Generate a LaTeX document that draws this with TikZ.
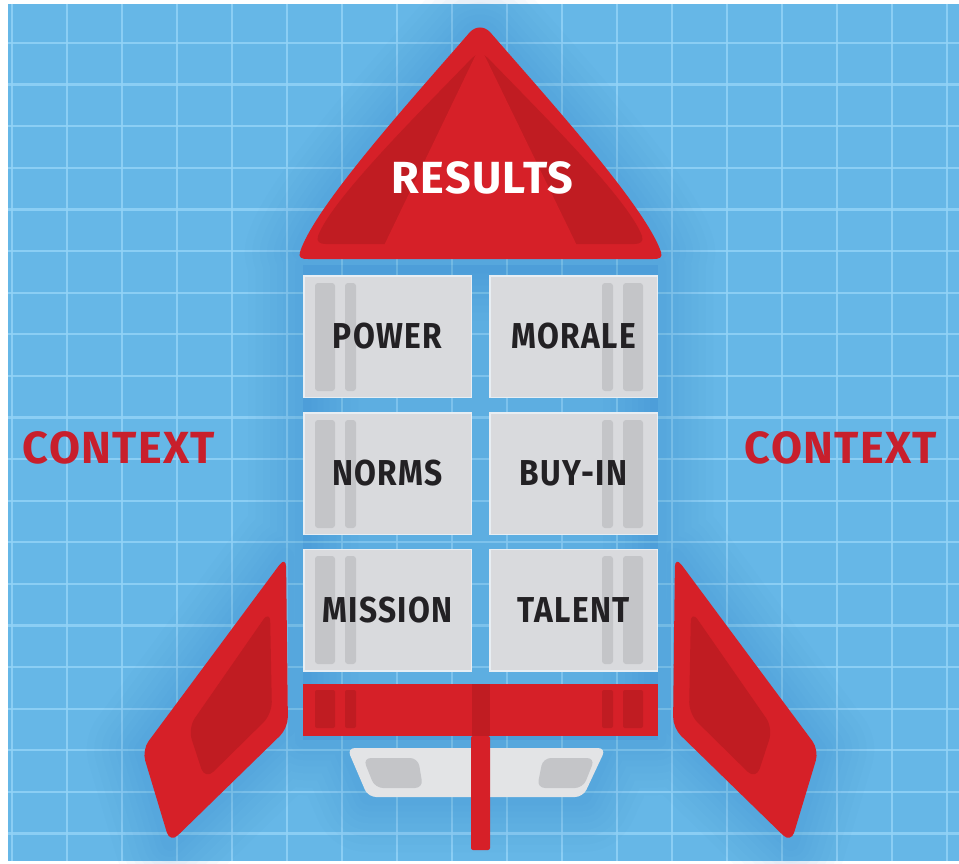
\documentclass[tikz,border=0pt]{standalone}
\usepackage{fontspec}
\usepackage{tikz}
\newfontfamily\rocketfont[LetterSpace=3]{Fira Sans}
\newfontfamily\panelfont[FakeStretch=0.88,LetterSpace=4]{Fira Sans}

\definecolor{skyblue}{RGB}{102,183,231}
\definecolor{gridblue}{RGB}{146,211,247}
\definecolor{glowblue}{RGB}{30,110,185}
\definecolor{rocketred}{RGB}{214,32,40}
\definecolor{darkred}{RGB}{192,28,34}
\definecolor{ctxred}{RGB}{200,31,44}
\definecolor{panelgray}{RGB}{217,218,221}
\definecolor{stripgray}{RGB}{196,197,200}
\definecolor{panelrim}{RGB}{232,238,243}
\definecolor{nozzlegray}{RGB}{227,228,230}
\definecolor{labelblack}{RGB}{35,33,36}

\tikzset{
  cellbox/.style={draw=panelrim, line width=1.5pt, fill=panelgray,
    minimum width=167.5pt, minimum height=121.5pt, inner sep=0pt},
  celltext/.style={font=\panelfont\bfseries\fontsize{36}{36}\selectfont,
    text=labelblack, inner sep=0pt},
  bigtext/.style={font=\rocketfont\bfseries\fontsize{45}{45}\selectfont, inner sep=0pt},
  strip/.style={fill=stripgray, rounded corners=3pt},
  redstrip/.style={fill=darkred, rounded corners=2pt},
}

\begin{document}
\begin{tikzpicture}[x=1pt,y=1pt,yscale=-1,xscale=1]
\useasboundingbox (0,0) rectangle (959,864);

%Background with grid
\fill[white] (0,0) rectangle (959,864);
\fill[skyblue] (8,4) rectangle (959,861);
\foreach \k in {0,...,17}
  \draw[gridblue, line width=2.2pt, opacity=0.85] ({12+55*\k},4) -- ({12+55*\k},861);
\foreach \k in {0,...,19}
  \draw[gridblue, line width=2.2pt, opacity=0.85] (8,{43+41.6*\k}) -- (959,{43+41.6*\k});

%Soft shadow round the rocket
\fill[glowblue, opacity=0.12] (303,265) rectangle (658,740);
\foreach \w in {110,95,80,66,52,40,28,16}{
  \draw[glowblue, line width=\w pt, opacity=0.022, line join=round]
    (300,252) .. controls (315,205) and (420,90) .. (470,32) .. controls (476,27) and (484,27) .. (490,32)
      .. controls (540,90) and (645,205) .. (660,252) -- cycle
    (303,265) rectangle (658,740)
    (286,556) -- (288,728) -- (170,843) -- (142,750) -- cycle
    (675,556) -- (673,728) -- (791,843) -- (819,750) -- cycle
    (347,748) -- (606,748) -- (583,797) -- (368,797) -- cycle;
}

%Nose cone
\fill[rocketred] (300,252) .. controls (315,205) and (420,90) .. (470,32)
  .. controls (476,26) and (484,26) .. (490,32)
  .. controls (540,90) and (645,205) .. (661,252)
  .. controls (663,258) and (659,259) .. (653,259) -- (308,259)
  .. controls (302,259) and (298,258) .. (300,252) -- cycle;
\fill[darkred] (318,236) .. controls (332,198) and (428,104) .. (472,58)
  .. controls (477,53) and (483,53) .. (488,58)
  .. controls (532,104) and (628,198) .. (642,236)
  .. controls (644,242) and (640,244) .. (634,244) -- (326,244)
  .. controls (320,244) and (316,242) .. (318,236) -- cycle;
\fill[rocketred, rounded corners=6pt] (480,46) -- (583,258) -- (378,258) -- cycle;
\node[bigtext, text=white] (results) at (482.5,177.5) {RESULTS};

%Fins
\fill[rocketred, rounded corners=11pt] (286,556) -- (288,728) -- (170,843) -- (142,750) -- cycle;
\fill[darkred, rounded corners=12pt] (270,610) -- (272,714) -- (205,780) -- (188,728) -- cycle;
\fill[rocketred, rounded corners=11pt] (675,556) -- (673,728) -- (791,843) -- (819,750) -- cycle;
\fill[darkred, rounded corners=12pt] (691,610) -- (689,714) -- (756,780) -- (773,728) -- cycle;

%Panels
\node[cellbox] (power)   at (387.5,336.5) {};
\node[cellbox] (morale)  at (573.5,336.5) {};
\node[cellbox] (norms)   at (387.5,473.5) {};
\node[cellbox] (buyin)   at (573.5,473.5) {};
\node[cellbox] (mission) at (387.5,610) {};
\node[cellbox] (talent)  at (573.5,610) {};
\foreach \y in {283,420,556}{
  \fill[strip] (315,\y) rectangle (335,\y+108);
  \fill[strip] (345,\y) rectangle (356,\y+108);
  \fill[strip] (602,\y) rectangle (613,\y+108);
  \fill[strip] (623,\y) rectangle (643,\y+108);
}
\node[celltext] at (power.center)   {POWER};
\node[celltext] at (morale.center)  {MORALE};
\node[celltext] at (norms.center)   {NORMS};
\node[celltext] at (buyin.center)   {BUY-IN};
\node[celltext] at (mission.center) {MISSION};
\node[celltext] at (talent.center)  {TALENT};

%Engine band, nozzle and rod
\fill[rocketred] (303,684) rectangle (658,736);
\fill[redstrip] (315,690) rectangle (335,728);
\fill[redstrip] (345,690) rectangle (356,728);
\fill[redstrip] (602,690) rectangle (613,728);
\fill[redstrip] (623,690) rectangle (643,728);
\fill[nozzlegray, rounded corners=8pt] (347,748) -- (606,748) -- (583,797) -- (368,797) -- cycle;
\fill[stripgray, rounded corners=8pt] (363,758) -- (418,758) -- (423,788) -- (375,788) -- cycle;
\fill[stripgray, rounded corners=8pt] (543,758) -- (595,758) -- (583,788) -- (537,788) -- cycle;
\fill[darkred] (472,684) rectangle (490,736);
\fill[rocketred, rounded corners=2pt] (471,736) rectangle (490,850);

%Side labels
\node[bigtext, text=ctxred] (ctxleft)  at (119,447.5) {CONTEXT};
\node[bigtext, text=ctxred] (ctxright) at (841,447.5) {CONTEXT};

\end{tikzpicture}
\end{document}
